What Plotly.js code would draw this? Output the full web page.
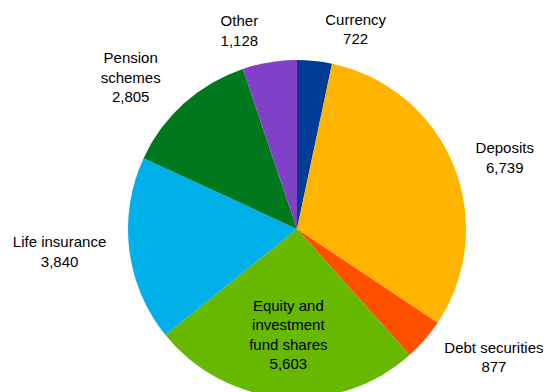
<!DOCTYPE html>
<html>
<head>
<meta charset="utf-8">
<script src="https://cdn.plot.ly/plotly-3.0.1.min.js"></script>
<style>
html,body{margin:0;padding:0;overflow:hidden;background:#fff;width:546px;height:392px;}
#chart{width:546px;height:440px;}
</style>
</head>
<body>
<div id="chart"></div>
<script>
const categories = ["Currency", "Deposits", "Debt securities", "Equity and<br>investment<br>fund shares", "Life insurance", "Pension<br>schemes", "Other"];
const values = [722, 6739, 877, 5603, 3840, 2805, 1128];
const colors = ["#003C96", "#FFB400", "#FF5000", "#66B800", "#00B0E8", "#00781E", "#8040C8"];
const insideIndex = 3;

const W = 546, H = 440;
const cx = 297, cy = 229, r = 169, rLabel = 183;
const FONT = '"Liberation Sans", Arial, sans-serif';

function dom(rad) {
  return {
    x: [(cx - 249) / W, 1],
    y: [(H - cy - rad) / H, (H - cy + rad) / H]
  };
}

const fmt = v => v.toLocaleString('en-US');

const pieMain = {
  type: 'pie',
  labels: categories,
  values: values,
  sort: false,
  direction: 'clockwise',
  rotation: 0,
  marker: {colors: colors, line: {width: 0}},
  textinfo: 'none',
  hoverinfo: 'skip',
  domain: dom(r),
  showlegend: false
};

const pieLabels = {
  type: 'pie',
  labels: categories,
  values: values,
  sort: false,
  direction: 'clockwise',
  rotation: 0,
  marker: {colors: values.map(() => 'rgba(0,0,0,0)'), line: {width: 0}},
  text: values.map((v, i) => categories[i] + '<br>' + fmt(v)),
  textinfo: 'text',
  textposition: values.map((v, i) => i === insideIndex ? 'inside' : 'outside'),
  insidetextorientation: 'horizontal',
  insidetextfont: {family: FONT, size: 15, color: '#000'},
  outsidetextfont: {family: FONT, size: 15, color: '#000'},
  hoverinfo: 'skip',
  domain: dom(rLabel),
  showlegend: false
};

Plotly.newPlot('chart', [pieMain, pieLabels], {
  width: W, height: H,
  margin: {l: 0, r: 0, t: 0, b: 0},
  paper_bgcolor: '#fff',
  font: {family: FONT, size: 15, color: '#000'},
  showlegend: false
}, {staticPlot: true, displayModeBar: false});
</script>
</body>
</html>
